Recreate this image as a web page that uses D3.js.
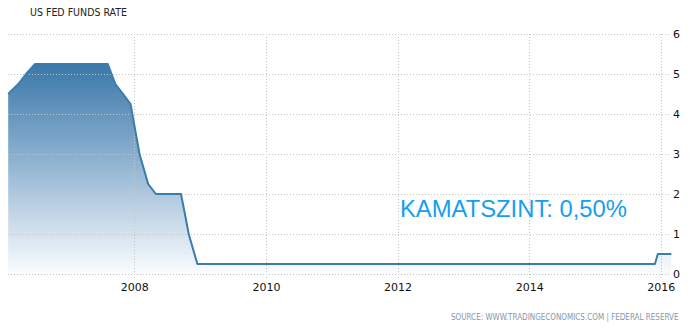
<!DOCTYPE html>
<html><head><meta charset="utf-8">
<script src="https://cdn.jsdelivr.net/npm/d3@7"></script>
<style>
html,body{margin:0;padding:0;background:#fff;}
svg{display:block;}
</style></head>
<body>
<svg id="c" width="692" height="334"></svg>
<script>
const title = "US FED FUNDS RATE";
const dates = ["2006-01-31","2006-03-28","2006-05-10","2006-06-29","2007-08-07","2007-09-18","2007-10-31","2007-12-11","2008-01-30","2008-03-18","2008-04-30","2008-09-16","2008-10-08","2008-10-29","2008-12-16","2015-11-30","2015-12-16","2016-02-29"];
const rates = [4.5,4.75,5.0,5.25,5.25,4.75,4.5,4.25,3.0,2.25,2.0,2.0,1.5,1.0,0.25,0.25,0.5,0.5];
const xTickYears = [2008,2010,2012,2014,2016];
const yTicks = [0,1,2,3,4,5,6];
const annotation = "KAMATSZINT: 0,50%";
const source = "SOURCE: WWW.TRADINGECONOMICS.COM | FEDERAL RESERVE";

const parse = d3.timeParse("%Y-%m-%d");
const data = dates.map((d,i)=>({date:parse(d), v:rates[i]}));

const svg = d3.select("#c");
const x = d3.scaleTime()
  .domain([new Date(2008,0,1), new Date(2016,0,1)])
  .range([134.3, 660.7]);
const y = d3.scaleLinear().domain([0,6]).range([274,34]);
const left = 8, right = 670;

const defs = svg.append("defs");
const grad = defs.append("linearGradient").attr("id","g")
  .attr("gradientUnits","userSpaceOnUse")
  .attr("x1",0).attr("x2",0).attr("y1",y(5.25)).attr("y2",y(0));
grad.append("stop").attr("offset","0%").attr("stop-color","#3a78a9");
grad.append("stop").attr("offset","45%").attr("stop-color","#8cb1d0");
grad.append("stop").attr("offset","100%").attr("stop-color","#fbfcfe");

// title
svg.append("text").attr("x",30).attr("y",16)
  .attr("font-family","Tahoma, 'DejaVu Sans Condensed', 'Liberation Sans Narrow', sans-serif")
  .attr("font-size",11).attr("fill","#222").attr("textLength",97).attr("lengthAdjust","spacingAndGlyphs")
  .text(title);

// area
const area = d3.area().x(d=>x(d.date)).y0(y(0)).y1(d=>y(d.v));
svg.append("path").datum(data).attr("d",area).attr("fill","url(#g)");

// gridlines
const grid = svg.append("g").attr("stroke","#c4c4c4").attr("stroke-width",1).attr("stroke-dasharray","1,2").attr("fill","none");
yTicks.forEach(t=>{
  grid.append("line").attr("x1",left).attr("x2",right)
    .attr("y1",Math.round(y(t))+0.5).attr("y2",Math.round(y(t))+0.5);
});
xTickYears.forEach(yr=>{
  const xx = Math.round(x(new Date(yr,0,1)))+0.5;
  grid.append("line").attr("x1",xx).attr("x2",xx).attr("y1",34).attr("y2",278);
});

// line
const line = d3.line().x(d=>x(d.date)).y(d=>y(d.v));
svg.append("path").datum(data).attr("d",line).attr("fill","none")
  .attr("stroke","#3b7cae").attr("stroke-width",2).attr("stroke-linejoin","round");

// axes labels
const yAxis = d3.axisRight(y).tickValues(yTicks).tickFormat(d3.format("d")).tickSize(0).tickPadding(0);
const ya = svg.append("g").attr("transform","translate(673,0)").call(yAxis);
ya.select(".domain").remove();
ya.selectAll("text").attr("font-family","Tahoma, 'DejaVu Sans', sans-serif").attr("font-size",11).attr("fill","#111");

const xAxis = d3.axisBottom(x).tickValues(xTickYears.map(yr=>new Date(yr,0,1)))
  .tickFormat(d3.timeFormat("%Y")).tickSize(0).tickPadding(0);
const xa = svg.append("g").attr("transform","translate(0,283)").call(xAxis);
xa.select(".domain").remove();
xa.selectAll("text").attr("font-family","Tahoma, 'DejaVu Sans', sans-serif").attr("font-size",11).attr("fill","#111");

// annotation
svg.append("text").attr("x",400).attr("y",217)
  .attr("font-family","'Liberation Sans', Arial, sans-serif").attr("font-size",24)
  .attr("fill","#179ef0").attr("textLength",227).attr("lengthAdjust","spacingAndGlyphs")
  .text(annotation);

// source
svg.append("text").attr("x",451).attr("y",320)
  .attr("font-family","'DejaVu Sans Condensed', 'DejaVu Sans', sans-serif").attr("font-size",8)
  .attr("fill","#8696a8")
  .text(source);
</script>
</body></html>
